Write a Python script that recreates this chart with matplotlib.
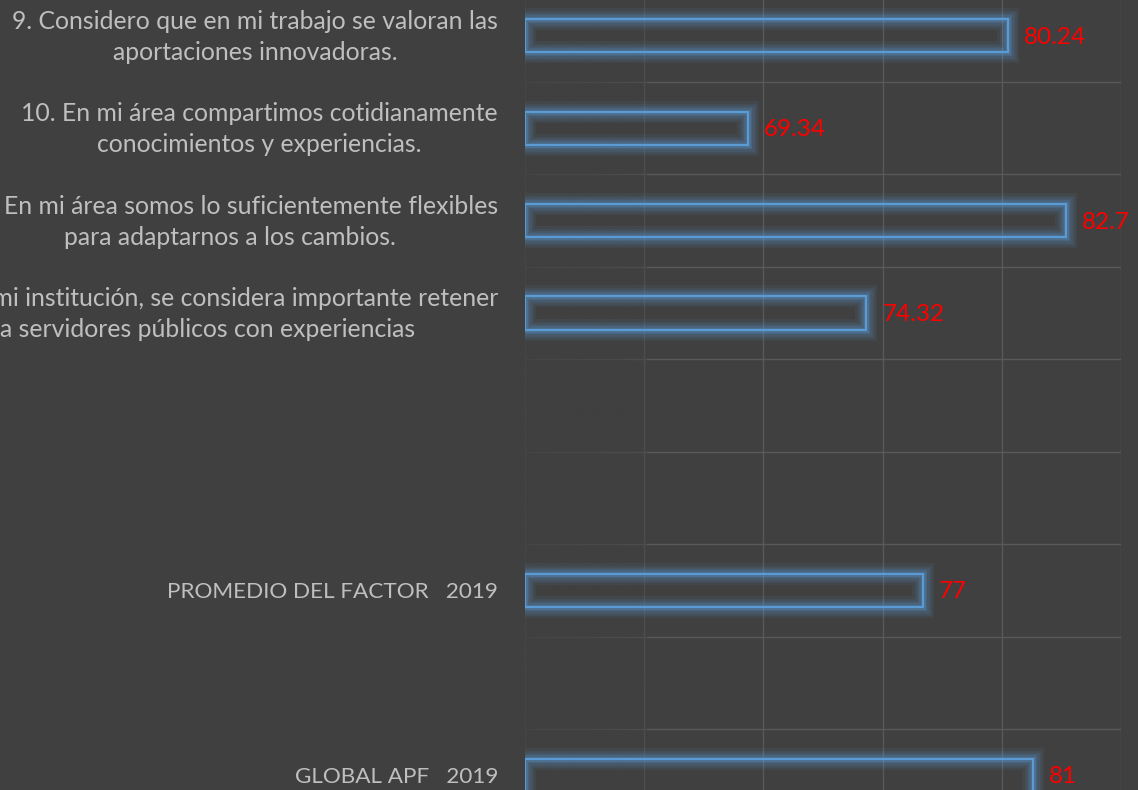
import numpy as np
import matplotlib
matplotlib.use("Agg")
import matplotlib.pyplot as plt
from matplotlib.transforms import ScaledTranslation

# Data
categories = [
    "9. Considero que en mi trabajo se valoran las\naportaciones innovadoras.",
    "10. En mi área compartimos cotidianamente\nconocimientos y experiencias.",
    "11. En mi área somos lo suficientemente flexibles\npara adaptarnos a los cambios.",
    "12. En mi institución, se considera importante retener\na servidores públicos con experiencias",
    "",
    "",
    "PROMEDIO DEL FACTOR   2019",
    "",
    "GLOBAL APF   2019",
]
values = [80.24, 69.34, 82.7, 74.32, np.nan, np.nan, 76.7, np.nan, 81.3]
value_labels = ["80.24", "69.34", "82.7", "74.32", "", "", "77", "", "81"]

# Style
bg = "#404040"
grid_col = "#595959"
bar_col = "#5b9bd5"
text_col = "#bfbfbf"
label_col = "#ff0000"

plt.rcParams['font.family'] = ['Lato', 'DejaVu Sans']

fig = plt.figure(figsize=(11.38, 7.9), dpi=100, facecolor=bg)
ax = fig.add_axes([525 / 1138, 0.0, 596 / 1138, 1.0])
ax.set_facecolor(bg)

y = np.arange(len(categories))
vals = np.array(values, dtype=float)
mask = ~np.isnan(vals)

# glow: several wide translucent outlines under the crisp one
for lw, a in [(16, 0.08), (12, 0.10), (9, 0.13), (6, 0.18), (3.5, 0.25)]:
    ax.barh(y[mask], vals[mask] - 60, left=60, height=0.36, facecolor='none',
            edgecolor=bar_col, linewidth=lw, alpha=a, zorder=3)
ax.barh(y[mask], vals[mask] - 60, left=60, height=0.36, facecolor='none',
        edgecolor=bar_col, linewidth=1.5, zorder=4)

for yi, v, lab in zip(y, vals, value_labels):
    if np.isnan(v):
        continue
    ax.annotate(lab, (v, yi), xytext=(11.5, -1), textcoords='offset points',
                ha='left', va='center', color=label_col, fontsize=17.5,
                annotation_clip=False)

ax.set_xlim(60, 85)
ax.set_ylim(8.16, -0.387)
ax.set_xticks(np.arange(60, 86, 5))
ax.set_xticklabels([])
ax.set_yticks(y)
ax.set_yticklabels(categories, fontsize=17.8, color=text_col, linespacing=1.42)
ax.set_yticks(np.arange(-0.5, len(categories), 1), minor=True)
ax.tick_params(axis='both', which='both', length=0)
ax.tick_params(axis='y', which='major', pad=19.5)

# centre the two-line labels and nudge them up a little
up = ScaledTranslation(0, 3.5 / 72, fig.dpi_scale_trans)
for t in ax.get_yticklabels():
    t.set_multialignment('center')
    if "\n" in t.get_text():
        t.set_transform(t.get_transform() + up)
    else:
        t.set_fontsize(16.2)

ax.set_axisbelow(True)
ax.grid(True, axis='x', which='major', color=grid_col, linewidth=1.0)
ax.grid(True, axis='y', which='minor', color=grid_col, linewidth=1.0)
for s in ax.spines.values():
    s.set_visible(False)

# faded gridlines near the left edge of the plot area
fade = np.zeros((2, 100, 4))
fade[..., :3] = matplotlib.colors.to_rgb(bg)
fade[..., 3] = np.linspace(0.8, 0.45, 100)
ax.imshow(fade, extent=(60, 65.1, 8.16, -0.387), aspect='auto', zorder=1,
          interpolation='bilinear')
ax.set_xlim(60, 85)
ax.set_ylim(8.16, -0.387)

fig.savefig("out.png", dpi=100, facecolor=bg)
